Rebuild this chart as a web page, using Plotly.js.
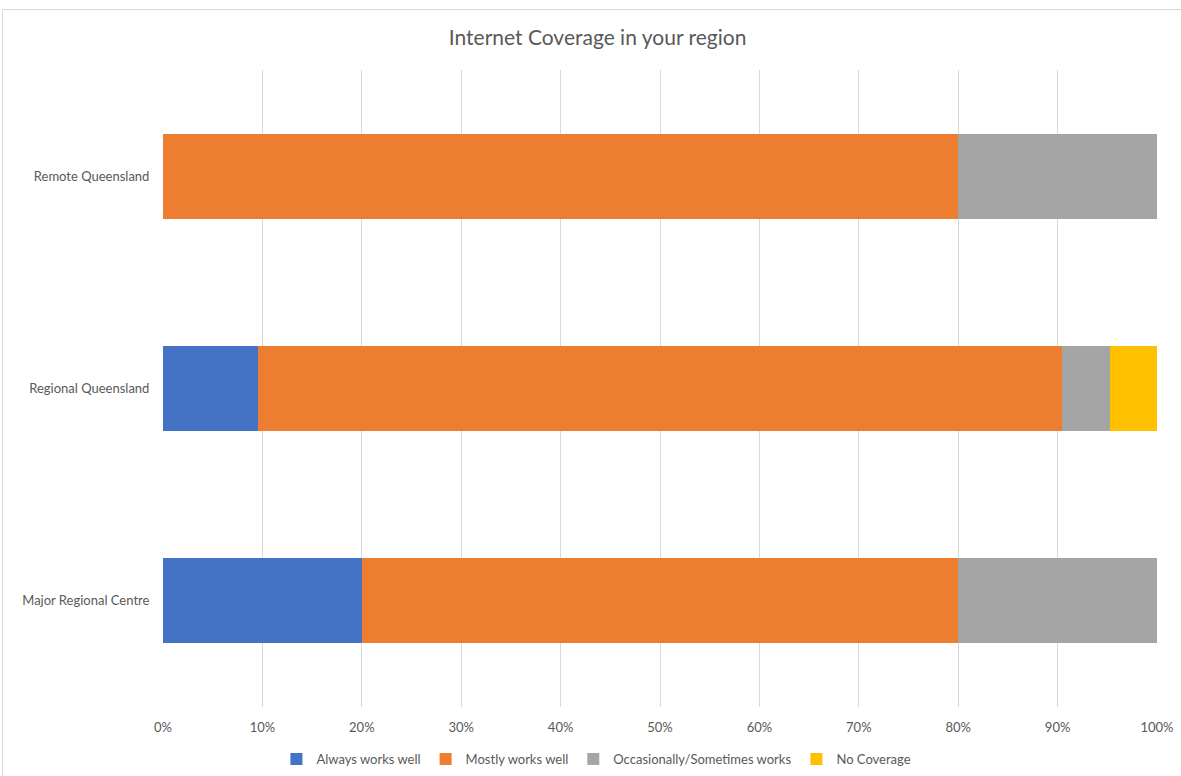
<!DOCTYPE html>
<html><head><meta charset="utf-8">
<script src="https://cdn.plot.ly/plotly-3.0.1.min.js"></script>
<style>
html,body{margin:0;padding:0;background:#fff;}
#wrap{position:relative;width:1181px;height:776px;}
#chart{position:absolute;left:0;top:0;width:1181px;height:776px;}
#frame{position:absolute;left:2px;top:9px;width:1185px;height:775px;border:1px solid #d9d9d9;pointer-events:none;}
</style></head>
<body>
<div id="wrap"><div id="chart"></div><div id="frame"></div></div>
<script>
const categories = ['Major Regional Centre', 'Regional Queensland', 'Remote Queensland'];
const alwaysWorksWell = [20, 9.52, 0];
const mostlyWorksWell = [60, 80.95, 80];
const occasionallyWorks = [20, 4.76, 20];
const noCoverage = [0, 4.77, 0];
const seriesNames = ['Always works well', 'Mostly works well', 'Occasionally/Sometimes works', 'No Coverage'];
const seriesColors = ['#4472c4', '#ed7d31', '#a5a5a5', '#ffc000'];
const xTicks = [0,10,20,30,40,50,60,70,80,90,100];

const seriesValues = [alwaysWorksWell, mostlyWorksWell, occasionallyWorks, noCoverage];
const traces = seriesValues.map((v, i) => ({
  type: 'bar', orientation: 'h', y: categories, x: v, name: seriesNames[i],
  marker: {color: seriesColors[i], line: {width: 0}}, hoverinfo: 'x+name'
}));
const fontFam = 'Lato, "Open Sans", "Liberation Sans", sans-serif';
const layout = {
  width: 1181, height: 776,
  margin: {l: 163, r: 24, t: 70, b: 69},
  paper_bgcolor: 'rgba(0,0,0,0)', plot_bgcolor: 'rgba(0,0,0,0)',
  barmode: 'stack', bargap: 0.6,
  font: {family: fontFam, color: '#595959', size: 13},
  title: {text: 'Internet Coverage in your region', font: {size: 21, color: '#595959', family: fontFam},
    xref: 'container', x: 0.506, xanchor: 'center', yref: 'container', y: 0.952, yanchor: 'middle'},
  xaxis: {range: [0, 100], tickvals: xTicks, ticktext: xTicks.map(t => t + '%'),
    showgrid: true, gridcolor: '#d9d9d9', gridwidth: 1, zeroline: false, showline: false,
    ticks: 'outside', ticklen: 8, tickcolor: 'rgba(0,0,0,0)', fixedrange: true,
    tickfont: {size: 13, color: '#595959'}},
  yaxis: {categoryorder: 'array', categoryarray: categories, showgrid: false, zeroline: false,
    showline: false, ticks: 'outside', ticklen: 10, tickcolor: 'rgba(0,0,0,0)',
    tickfont: {size: 13, color: '#595959'}, fixedrange: true},
  legend: {orientation: 'h', xref: 'container', x: 0.505, xanchor: 'center',
    yref: 'container', y: 1 - 759/776, yanchor: 'middle', traceorder: 'normal',
    font: {size: 13, color: '#595959'}, itemwidth: 30, tracegroupgap: 0},
  showlegend: true
};
Plotly.newPlot('chart', traces, layout, {displayModeBar: false, staticPlot: true});
</script>
</body></html>
